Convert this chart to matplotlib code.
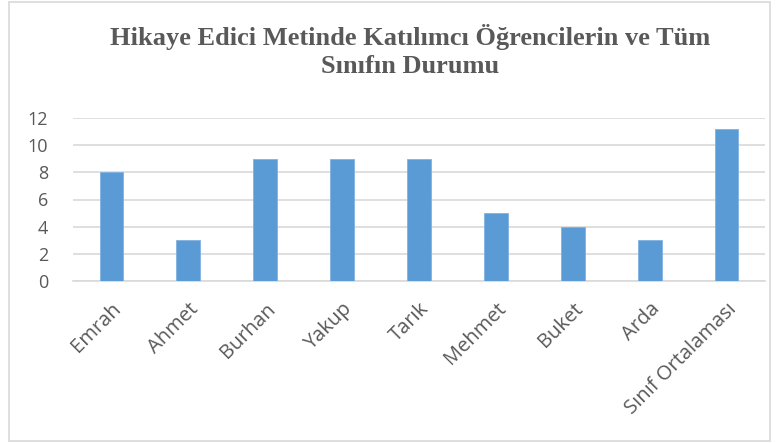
import matplotlib.pyplot as plt
from matplotlib.patches import Rectangle

# values
names = ['Emrah', 'Ahmet', 'Burhan', 'Yakup', 'Tarık', 'Mehmet', 'Buket', 'Arda', 'Sınıf Ortalaması']
scores = [8, 3, 9, 9, 9, 5, 4, 3, 11.2]
yticks = [0, 2, 4, 6, 8, 10, 12]

grey = '#595959'

fig = plt.figure(figsize=(7.83, 4.43), dpi=100)
ax = fig.add_axes([73 / 783, 1 - 281 / 443, 692 / 783, 163 / 443])

x = range(len(names))
ax.bar(x, scores, width=0.31, color='#5B9BD5', edgecolor='#7FB2E0', linewidth=0.6, zorder=3)

ax.set_xlim(-0.5, len(names) - 0.5)
ax.set_ylim(0, 12)
ax.set_yticks(yticks)
ax.grid(axis='y', color='#D9D9D9', linewidth=1.2, zorder=0)
for s in ['top', 'right', 'left']:
    ax.spines[s].set_visible(False)
ax.spines['bottom'].set_color('#D9D9D9')
ax.spines['bottom'].set_linewidth(1.2)
ax.tick_params(length=0, colors=grey, labelsize=13)
ax.tick_params(axis='y', pad=18)
ax.tick_params(axis='x', pad=13, labelsize=14.5)
ax.set_xticks(list(x))
ax.set_xticklabels(names, rotation=45, ha='right', rotation_mode='anchor', fontfamily='Open Sans')
for lb in ax.get_yticklabels():
    lb.set_fontfamily('Open Sans')

fig.text(410 / 783, 1 - 24 / 443, 'Hikaye Edici Metinde Katılımcı Öğrencilerin ve Tüm\nSınıfın Durumu',
         ha='center', va='top', fontsize=19, fontweight='bold', color=grey,
         family='Liberation Serif', linespacing=1.3, multialignment='center')

# outer frame
fig.patches.append(Rectangle((9 / 783, 2 / 443), 761 / 783, 439 / 443, transform=fig.transFigure,
                             fill=False, edgecolor='#D9D9D9', linewidth=1.2))

fig.savefig('out.png', dpi=100)
plt.close()
